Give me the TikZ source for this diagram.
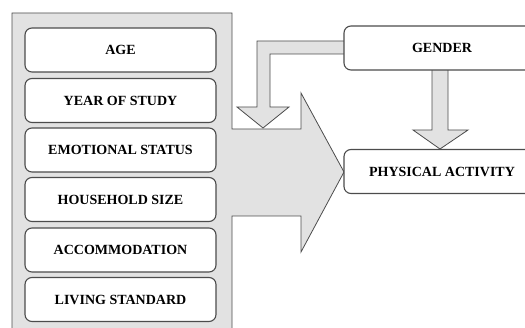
\documentclass[tikz,border=0pt]{standalone}
\usepackage{fontspec}
\setmainfont{Liberation Serif}
\definecolor{panelfill}{HTML}{E2E2E2}
\definecolor{edge}{HTML}{4C4C4C}
\begin{document}
\begin{tikzpicture}[x=1pt,y=-1pt,
  box/.style={draw=edge,line width=1.1pt,fill=white,rounded corners=7pt,
    minimum width=191pt,minimum height=44pt,inner sep=0pt,
    font=\fontsize{14}{16}\selectfont\bfseries},
  rbox/.style={box,minimum width=196pt},
  blockarrow/.style={draw=edge,line width=0.8pt,fill=panelfill,line join=miter}]
\useasboundingbox (0,0) rectangle (525,328);
\clip (0,0) rectangle (525,328);
% big block arrow (panel)
\draw[blockarrow] (12,13) -- (232,13) -- (232,129) -- (301,129) -- (301,93)
  -- (344,172) -- (301,252) -- (301,216) -- (232,216) -- (232,345) -- (12,345) -- cycle;
% left boxes
\node[box] (age) at (120.5,50) {AGE};
\node[box] (year) at (120.5,100.5) {YEAR OF STUDY};
\node[box] (emo) at (120.5,150) {EMOTIONAL STATUS};
\node[box] (house) at (120.5,199.5) {HOUSEHOLD SIZE};
\node[box] (acc) at (120.5,250) {ACCOMMODATION};
\node[box] (liv) at (120.5,299.5) {LIVING STANDARD};
% elbow arrow from gender
\draw[blockarrow] (350,41) -- (257,41) -- (257,107) -- (237,107) -- (263,128)
  -- (289,107) -- (270,107) -- (270,54) -- (350,54);
% down arrow from gender
\draw[blockarrow] (432,66) -- (432,130) -- (413,130) -- (440,149) -- (468,130)
  -- (448,130) -- (448,66);
% right boxes
\node[rbox] (gender) at (442,48) {GENDER};
\node[rbox] (pa) at (442,171.5) {PHYSICAL ACTIVITY};
\end{tikzpicture}
\end{document}
